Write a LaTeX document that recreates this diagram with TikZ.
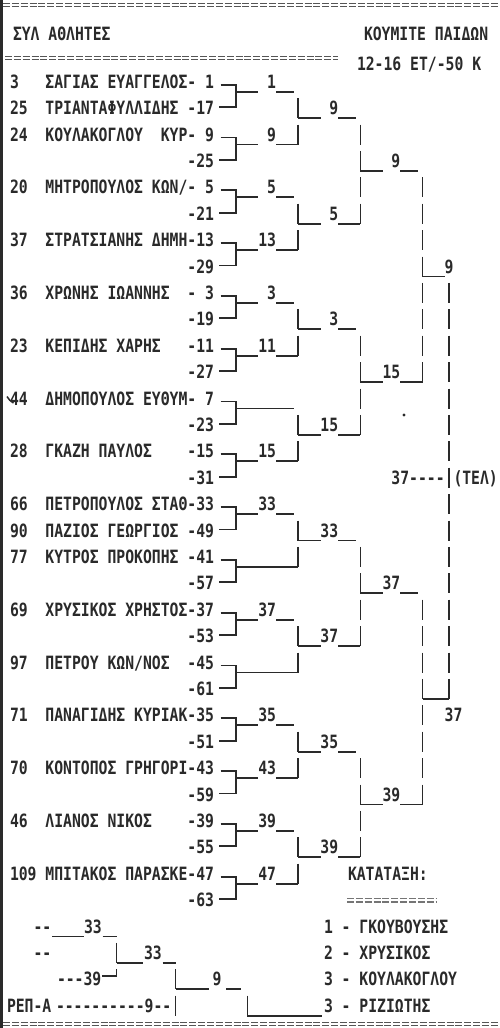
\documentclass[tikz,border=0pt]{standalone}
\usepackage{fontspec}
\setmonofont{DejaVu Sans Mono}[FakeStretch=0.8052]
\definecolor{ink}{RGB}{42,42,42}
\newcounter{tn}
\newcommand\qRC[1]{(81.7+26.4*((#1)-1))}
\newcommand\qCL[1]{(10+8.87*(#1))}
\newcommand\quoff{10}
\newcommand\qT[3]{\stepcounter{tn}\node[txt] (t\arabic{tn}) at ({\qCL{#1}},{\qRC{#2}+6.65}) {#3};}
\newcommand\qTX[3]{\stepcounter{tn}\node[txt] (t\arabic{tn}) at ({#1},{\qRC{#2}+6.65}) {#3};}
\newcommand\qVB[3]{\foreach \qr in {#2,...,#3}{\draw[ln] ({#1},{\qRC{\qr}-10}) -- ({#1},{\qRC{\qr}+\quoff});}}
\newcommand\qBR[1]{\draw[ln] (220.5,{\qRC{2*#1-1}+3}) -- (236.2,{\qRC{2*#1-1}+3}) -- (236.2,{\qRC{2*#1}-1}) -- (218.5,{\qRC{2*#1}-1});}
\newcommand\qOUT[7]{%
 \if\relax\detokenize{#6}\relax
   \draw[ln] (#2,{\qRC{#1}+\quoff}) -- (#5,{\qRC{#1}+\quoff});
 \else
   \draw[ln] (#2,{\qRC{#1}+\quoff}) -- (#3,{\qRC{#1}+\quoff});
   \draw[ln] (#4,{\qRC{#1}+\quoff}) -- (#5,{\qRC{#1}+\quoff});
   \stepcounter{tn}\node[lab] (t\arabic{tn}) at (#7,{\qRC{#1}+6.65}) {#6};
 \fi}
\newcommand\qRone[3]{\qOUT{#1}{236.2}{258.4}{276.1}{#3}{#2}{276.1}}
\newcommand\qRtwo[3]{\qOUT{#1}{298.3}{320.5}{338.2}{#3}{#2}{338.2}}
\newcommand\qRthree[3]{\qOUT{#1}{360.4}{382.5}{400.3}{#3}{#2}{400.3}}
\begin{document}
\begin{tikzpicture}[x=1pt,y=-1pt,
 txt/.style={anchor=base west,inner sep=0pt,outer sep=0pt,text=ink,font={\ttfamily\bfseries\fontsize{18.3}{20}\selectfont\spaceskip=8.87pt\relax}},
 lab/.style={txt,anchor=base east},
 ln/.style={draw=ink,line width=1.8pt},
 eqs/.style={draw=ink!80,line width=1.2pt,dash pattern=on 7pt off 1.87pt}]
\fill[white] (0,0) rectangle (499,1028);
\useasboundingbox (0,0) rectangle (499,1028);
\fill[ink] (0,0) rectangle (2.5,1028);
% double rules
\foreach \yy in {3.5,6.5,1022.5,1025.5}{\draw[eqs] (3,\yy) -- (499,\yy);}
\foreach \yy in {56.5,59.5}{\draw[eqs] (5,\yy) -- (338,\yy);}
\foreach \yy in {898.5,902}{\draw[eqs,draw=ink!65] (347,\yy) -- (437,\yy);}
% header
\node[txt] (hdA) at (13,40) {ΣΥΛ ΑΘΛΗΤΕΣ};
\node[txt] (hdB) at (364,40) {ΚΟΥΜΙΤΕ ΠΑΙΔΩΝ};
\node[txt] (hdC) at (357,70) {12-16 ΕΤ/-50 Κ};
% entries
\qT{0}{1}{3}  \qT{4}{1}{ΣΑΓΙΑΣ ΕΥΑΓΓΕΛΟΣ- 1}
\qT{0}{2}{25} \qT{4}{2}{ΤΡΙΑΝΤΑΦΥΛΛΙΔΗΣ -17}
\qT{0}{3}{24} \qT{4}{3}{ΚΟΥΛΑΚΟΓΛΟΥ} \qT{17}{3}{ΚΥΡ- 9}
\qT{20}{4}{-25}
\qT{0}{5}{20} \qT{4}{5}{ΜΗΤΡΟΠΟΥΛΟΣ ΚΩΝ/- 5}
\qT{20}{6}{-21}
\qT{0}{7}{37} \qT{4}{7}{ΣΤΡΑΤΣΙΑΝΗΣ ΔΗΜΗ-13}
\qT{20}{8}{-29}
\qT{0}{9}{36} \qT{4}{9}{ΧΡΩΝΗΣ ΙΩΑΝΝΗΣ} \qT{20}{9}{- 3}
\qT{20}{10}{-19}
\qT{0}{11}{23} \qT{4}{11}{ΚΕΠΙΔΗΣ ΧΑΡΗΣ} \qT{20}{11}{-11}
\qT{20}{12}{-27}
\qT{0}{13}{44} \qT{4}{13}{ΔΗΜΟΠΟΥΛΟΣ ΕΥΘΥΜ- 7}
\qT{20}{14}{-23}
\qT{0}{15}{28} \qT{4}{15}{ΓΚΑΖΗ ΠΑΥΛΟΣ} \qT{20}{15}{-15}
\qT{20}{16}{-31}
\qT{0}{17}{66} \qT{4}{17}{ΠΕΤΡΟΠΟΥΛΟΣ ΣΤΑΘ-33}
\qT{0}{18}{90} \qT{4}{18}{ΠΑΖΙΟΣ ΓΕΩΡΓΙΟΣ -49}
\qT{0}{19}{77} \qT{4}{19}{ΚΥΤΡΟΣ ΠΡΟΚΟΠΗΣ -41}
\qT{20}{20}{-57}
\qT{0}{21}{69} \qT{4}{21}{ΧΡΥΣΙΚΟΣ ΧΡΗΣΤΟΣ-37}
\qT{20}{22}{-53}
\qT{0}{23}{97} \qT{4}{23}{ΠΕΤΡΟΥ ΚΩΝ/ΝΟΣ} \qT{20}{23}{-45}
\qT{20}{24}{-61}
\qT{0}{25}{71} \qT{4}{25}{ΠΑΝΑΓΙΔΗΣ ΚΥΡΙΑΚ-35}
\qT{20}{26}{-51}
\qT{0}{27}{70} \qT{4}{27}{ΚΟΝΤΟΠΟΣ ΓΡΗΓΟΡΙ-43}
\qT{20}{28}{-59}
\qT{0}{29}{46} \qT{4}{29}{ΛΙΑΝΟΣ ΝΙΚΟΣ} \qT{20}{29}{-39}
\qT{20}{30}{-55}
\qT{0}{31}{109} \qT{4}{31}{ΜΠΙΤΑΚΟΣ ΠΑΡΑΣΚΕ-47}
\qT{20}{32}{-63}
% round 1 brackets
\foreach \k in {1,...,16}{\qBR{\k}}
% round 1 outputs
\qRone{1}{1}{293.8}   \qRone{3}{9}{298.3}
\qRone{5}{5}{293.8}   \qRone{7}{13}{298.3}
\qRone{9}{3}{293.8}   \qRone{11}{11}{298.3}
\qRone{13}{}{293.8}   \qRone{15}{15}{298.3}
\qRone{17}{33}{293.8} \qRone{19}{}{298.3}
\qRone{21}{37}{293.8} \qRone{23}{}{298.3}
\qRone{25}{35}{293.8} \qRone{27}{43}{298.3}
\qRone{29}{39}{293.8} \qRone{31}{47}{298.3}
% round 2
\qVB{298.3}{2}{3} \qVB{298.3}{6}{7} \qVB{298.3}{10}{11} \qVB{298.3}{14}{15}
\qVB{298.3}{18}{19} \qVB{298.3}{22}{23} \qVB{298.3}{26}{27} \qVB{298.3}{30}{31}
\qRtwo{2}{9}{355.9}   \qRtwo{6}{5}{360.4}
\qRtwo{10}{3}{355.9}  \qRtwo{14}{15}{360.4}
\qRtwo{18}{33}{355.9} \qRtwo{22}{37}{360.4}
\qRtwo{26}{35}{355.9} \qRtwo{30}{39}{360.4}
% round 3
\qVB{360.4}{3}{6} \qVB{360.4}{11}{14} \qVB{360.4}{19}{22} \qVB{360.4}{27}{30}
\qRthree{4}{9}{418.0}   \qRthree{12}{15}{422.5}
\qRthree{20}{37}{418.0} \qRthree{28}{39}{422.5}
% round 4
\qVB{422.5}{5}{12} \qVB{422.5}{21}{28}
\draw[ln] (422.5,{\qRC{8}+\quoff}) -- (444.6,{\qRC{8}+\quoff});
\qT{49}{8}{9}
\draw[ln] (422.5,{\qRC{24}+\quoff}) -- (449.1,{\qRC{24}+\quoff});
\qT{49}{25}{37}
% final
\qVB{449.1}{9}{24}
\qT{43}{16}{37----}
\qT{50}{16}{(ΤΕΛ)}
% ranking
\qTX{348}{31}{ΚΑΤΑΤΑΞΗ:}
\qTX{324}{33}{1 - ΓΚΟΥΒΟΥΣΗΣ}
\qTX{324}{34}{2 - ΧΡΥΣΙΚΟΣ}
\qTX{324}{35}{3 - ΚΟΥΛΑΚΟΓΛΟΥ}
\qTX{324}{36}{3 - ΡΙΖΙΩΤΗΣ}
% repechage
\qTX{33.5}{33}{--}
\draw[ln] (52,{\qRC{33}+\quoff}) -- (84,{\qRC{33}+\quoff});
\qTX{84}{33}{33}
\draw[ln] (102.5,{\qRC{33}+\quoff}) -- (116.5,{\qRC{33}+\quoff});
\qTX{33.5}{34}{--}
\qVB{116.5}{34}{34}
\draw[ln] (116.5,{\qRC{34}+\quoff}) -- (143,{\qRC{34}+\quoff});
\qTX{144}{34}{33}
\draw[ln] (162.5,{\qRC{34}+\quoff}) -- (175.5,{\qRC{34}+\quoff});
\qTX{57}{35}{---39}
\draw[ln] (102,{\qRC{35}-3}) -- (116.5,{\qRC{35}-3}) -- (116.5,{\qRC{35}-10});
\qVB{175.5}{35}{36}
\draw[ln] (175.5,{\qRC{35}+\quoff}) -- (209,{\qRC{35}+\quoff});
\qTX{212.5}{35}{9}
\draw[ln] (226,{\qRC{35}+\quoff}) -- (241,{\qRC{35}+\quoff});
\qTX{7}{36}{ΡΕΠ-Α}
\qTX{56}{36}{----------9--}
\draw[ln] (247.5,{\qRC{36}-10}) -- (247.5,{\qRC{36}+\quoff}) -- (322,{\qRC{36}+\quoff});
% specks
\fill[ink] (404,415) circle (1.7);
\draw[ink,line width=1.5pt] (7,396.5) to[bend right=15] (13.5,403);
\end{tikzpicture}
\end{document}
